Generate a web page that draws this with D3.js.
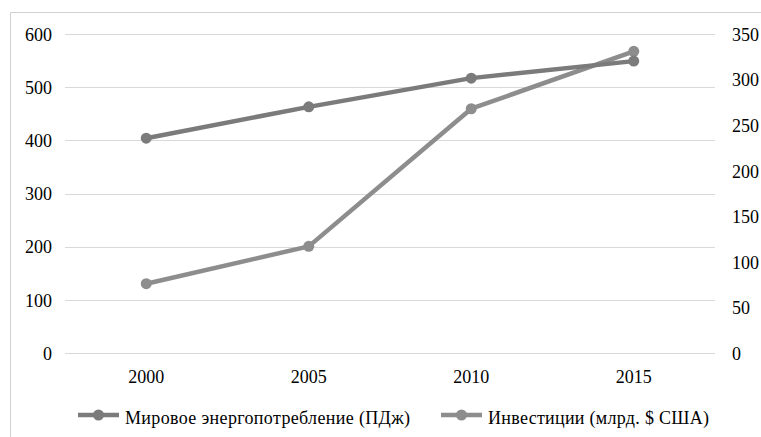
<!DOCTYPE html>
<html>
<head>
<meta charset="utf-8">
<script src="https://cdn.jsdelivr.net/npm/d3@7"></script>
<style>
  body { margin: 0; background: #fff; }
</style>
</head>
<body>
<svg id="chart"></svg>
<script>
// chart data
var years = ["2000", "2005", "2010", "2015"];
var energy = [404, 463, 517, 549];      // ПДж, left axis
var invest = [76, 117, 268, 331];       // млрд. $ США, right axis
var leftTicks = [0, 100, 200, 300, 400, 500, 600];
var rightTicks = [0, 50, 100, 150, 200, 250, 300, 350];
var seriesNames = ["Мировое энергопотребление (ПДж)", "Инвестиции (млрд. $ США)"];

var FONT = "'Liberation Serif', 'Times New Roman', Times, serif";

var width = 761,
    height = 437,
    margin = {top: 34, left: 65, right: 46, bottom: 84};

var svg = d3.select("#chart")
    .attr("width", width)
    .attr("height", height);

// outer frame
svg.append("path")
    .attr("d", "M10.5," + height + "V12.5H" + width)
    .attr("fill", "none")
    .attr("stroke", "#d0d0d0")
    .attr("stroke-width", 1);

var x = d3.scaleBand()
    .domain(years)
    .range([margin.left, width - margin.right]);

var yLeft = d3.scaleLinear()
    .domain([0, 600])
    .range([height - margin.bottom, margin.top]);

var yRight = d3.scaleLinear()
    .domain([0, 350])
    .range(yLeft.range());

// gridlines
svg.append("g")
    .selectAll("line")
    .data(leftTicks)
    .enter().append("line")
    .attr("x1", margin.left)
    .attr("x2", width - margin.right)
    .attr("y1", function(d) { return Math.round(yLeft(d)) + 0.5; })
    .attr("y2", function(d) { return Math.round(yLeft(d)) + 0.5; })
    .attr("stroke", "#d9d9d9")
    .attr("stroke-width", 1);

function styleAxis(g) {
  g.select(".domain").remove();
  g.attr("font-family", FONT).attr("font-size", 18);
  g.selectAll("text").style("font-family", FONT).style("font-size", "18px").attr("fill", "#000");
}

var gl = svg.append("g")
    .attr("transform", "translate(52,0)")
    .call(d3.axisLeft(yLeft).tickValues(leftTicks).tickSize(0).tickPadding(0));
styleAxis(gl);
gl.selectAll("text").attr("dy", "0.35em");

var gr = svg.append("g")
    .attr("transform", "translate(732,0)")
    .call(d3.axisRight(yRight).tickValues(rightTicks).tickSize(0).tickPadding(0));
styleAxis(gr);
gr.selectAll("text").attr("dy", "0.35em");

var gb = svg.append("g")
    .attr("transform", "translate(0,370)")
    .call(d3.axisBottom(x).tickSize(0).tickPadding(0));
styleAxis(gb);
gb.selectAll("text").attr("dy", "0.71em");

function cx(d, i) { return x(years[i]) + x.bandwidth() / 2; }

var colors = ["#7b7b7b", "#8d8d8d"];

// investment line (right axis)
var lineR = d3.line()
    .x(cx)
    .y(function(d) { return yRight(d); });
svg.append("path")
    .datum(invest)
    .attr("d", lineR)
    .attr("fill", "none")
    .attr("stroke", colors[1])
    .attr("stroke-width", 4.5)
    .attr("stroke-linejoin", "round");
svg.append("g").selectAll("circle")
    .data(invest)
    .enter().append("circle")
    .attr("cx", cx)
    .attr("cy", function(d) { return yRight(d); })
    .attr("r", 5.5)
    .attr("fill", colors[1]);

// energy line (left axis)
var lineL = d3.line()
    .x(cx)
    .y(function(d) { return yLeft(d); });
svg.append("path")
    .datum(energy)
    .attr("d", lineL)
    .attr("fill", "none")
    .attr("stroke", colors[0])
    .attr("stroke-width", 4.5)
    .attr("stroke-linejoin", "round");
svg.append("g").selectAll("circle")
    .data(energy)
    .enter().append("circle")
    .attr("cx", cx)
    .attr("cy", function(d) { return yLeft(d); })
    .attr("r", 5.5)
    .attr("fill", colors[0]);

// legend
var legendX = [78, 441];
var legendW = [285, 221];
var leg = svg.append("g").selectAll("g")
    .data(seriesNames)
    .enter().append("g")
    .attr("transform", function(d, i) { return "translate(" + legendX[i] + ",415)"; });
leg.append("line")
    .attr("x1", 0).attr("x2", 41)
    .attr("stroke", function(d, i) { return colors[i]; })
    .attr("stroke-width", 4.5);
leg.append("circle")
    .attr("cx", 20.5)
    .attr("r", 5.5)
    .attr("fill", function(d, i) { return colors[i]; });
leg.append("text")
    .attr("x", 47)
    .attr("y", 9)
    .attr("textLength", function(d, i) { return legendW[i]; })
    .attr("lengthAdjust", "spacing")
    .style("font-family", FONT)
    .style("font-size", "18px")
    .attr("fill", "#000")
    .text(function(d) { return d; });
</script>
</body>
</html>
